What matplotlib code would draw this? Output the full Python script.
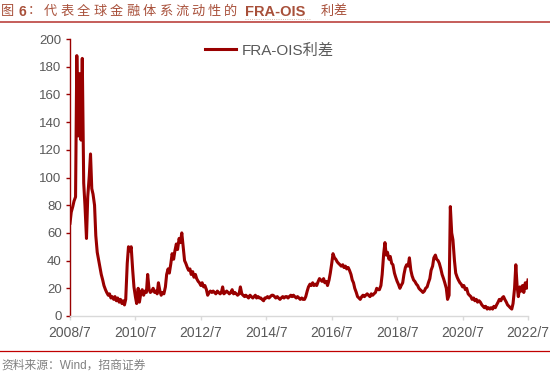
import numpy as np
import pandas as pd
import matplotlib
matplotlib.use('Agg')
import matplotlib.pyplot as plt

# FRA-OIS spread, semi-monthly readings from 2008/7/1 to 2022/7/1 (bp)
spread = [
    67, 75, 79, 83, 86, 188, 130, 175, 127, 186, 96, 80,
    56, 86, 101, 117, 92, 88, 80, 58, 46, 41, 35, 30,
    26, 22, 19, 17, 15, 16, 13, 14, 12, 14, 11, 13,
    10, 12, 9, 11, 8, 12, 38, 50, 47, 50, 33, 21,
    14, 9, 20, 10, 17, 19, 15, 18, 17, 30, 19, 17,
    18, 20, 17, 18, 16, 24, 18, 15, 17, 16, 21, 30,
    34, 31, 38, 45, 41, 47, 52, 48, 56, 53, 60, 51,
    40, 38, 35, 33, 34, 30, 32, 28, 30, 27, 25, 24,
    22, 24, 21, 22, 19, 15, 17, 18, 17, 18, 17, 16,
    18, 17, 16, 17, 21, 16, 17, 18, 17, 16, 17, 19,
    16, 17, 16, 15, 16, 21, 16, 15, 14, 15, 14, 13,
    15, 14, 13, 14, 15, 13, 14, 13, 13, 12, 11, 13,
    13, 14, 13, 14, 15, 15, 14, 13, 14, 13, 12, 13,
    14, 13, 14, 14, 13, 14, 15, 14, 15, 14, 13, 14,
    13, 12, 13, 12, 12, 14, 18, 21, 23, 22, 24, 22,
    23, 22, 25, 27, 26, 25, 27, 24, 25, 22, 26, 31,
    38, 45, 42, 41, 39, 38, 37, 36, 37, 35, 36, 34,
    35, 33, 30, 26, 24, 20, 17, 14, 13, 12, 14, 15,
    14, 15, 16, 15, 14, 16, 15, 16, 17, 20, 19, 19,
    22, 30, 45, 53, 44, 46, 41, 43, 38, 37, 31, 28,
    25, 23, 20, 22, 24, 30, 35, 37, 36, 42, 33, 29,
    26, 25, 23, 22, 20, 19, 18, 17, 18, 20, 21, 24,
    27, 33, 36, 42, 44, 41, 40, 38, 34, 30, 27, 24,
    20, 12, 15, 79, 60, 55, 40, 31, 28, 26, 24, 23,
    21, 22, 19, 20, 16, 15, 14, 12, 13, 11, 12, 10,
    11, 10, 8, 7, 6, 7, 5, 6, 5, 6, 5, 7,
    6, 8, 10, 12, 11, 13, 14, 12, 10, 8, 7, 6,
    5, 9, 20, 37, 22, 14, 21, 18, 22, 17, 24, 20,
    26,
]
dates = pd.date_range('2008-07-01', periods=len(spread), freq='SMS')

tick_dates = pd.to_datetime(['2008-07-01', '2010-07-01', '2012-07-01', '2014-07-01',
                             '2016-07-01', '2018-07-01', '2020-07-01', '2022-07-01'])
tick_labels = ['2008/7', '2010/7', '2012/7', '2014/7', '2016/7', '2018/7', '2020/7', '2022/7']
y_ticks = list(range(0, 201, 20))

series_name = 'FRA-OIS利差'
title_cn = '代表全球金融体系流动性的'
source_text = '资料来源：Wind，招商证券'

W, H = 550, 377
fonts = ['Liberation Sans', 'Noto Sans CJK SC', 'DejaVu Sans']
plt.rcParams['font.family'] = fonts

red = '#990000'
grey = '#595959'
title_col = '#A8503A'

fig = plt.figure(figsize=(W / 100, H / 100), dpi=100)
ax = fig.add_axes([70 / W, 1 - 316 / H, (528 - 70) / W, (316 - 39) / H])

ax.plot(dates, spread, color=red, lw=2.2, label=series_name)

ax.set_xlim(tick_dates[0], tick_dates[-1])
ax.set_ylim(0, 200)
ax.set_xticks(tick_dates)
ax.set_xticklabels(tick_labels)
ax.set_yticks(y_ticks)

for s in ['top', 'right']:
    ax.spines[s].set_visible(False)
ax.spines['left'].set_color(red)
ax.spines['left'].set_linewidth(1.0)
ax.spines['bottom'].set_color('#d9d9d9')
ax.spines['bottom'].set_linewidth(1.0)
ax.tick_params(axis='y', colors=red, labelcolor=grey, labelsize=9.5, length=3, width=1.0, pad=3)
ax.tick_params(axis='x', colors='#d9d9d9', labelcolor=grey, labelsize=10, length=3, width=1.0, pad=4)

leg = ax.legend(loc='center left', bbox_to_anchor=(205 / W, 1 - 50.5 / H),
                bbox_transform=fig.transFigure, frameon=False, fontsize=11,
                handlelength=2.0, handletextpad=0.4, borderpad=0, borderaxespad=0)
for t in leg.get_texts():
    t.set_color(grey)


def put(x, y, s, **kw):
    fig.text(x / W, 1 - y / H, s, va='center', **kw)


def spaced(x0, y, s, pitch, **kw):
    for k, ch in enumerate(s):
        put(x0 + k * pitch, y, ch, ha='center', **kw)


# header
ty = 11.5
put(7, ty, '图', ha='center', fontsize=9.5, color=title_col)
put(22.5, ty, '6', ha='center', fontsize=10, color=title_col, fontweight='bold')
put(28, ty, '：', ha='left', fontsize=9.5, color=title_col)
spaced(50.5, ty, title_cn, 16.4, fontsize=9.5, color=title_col)
put(245, ty, 'FRA-OIS', ha='left', fontsize=10.5, color=title_col, fontweight='bold')
spaced(327.5, ty, '利差', 12.5, fontsize=9.5, color=title_col)
fig.add_artist(plt.Line2D([245 / W, 310 / W], [1 - 19 / H] * 2, color='#C9A08F', lw=0.6, ls=':'))
fig.add_artist(plt.Line2D([0, 1], [1 - 21.7 / H] * 2, color='#C0504D', lw=1.3))

# footer
fig.add_artist(plt.Line2D([0, 1], [1 - 351 / H] * 2, color='#C00000', lw=0.9))
put(1, 365.5, source_text, ha='left', fontsize=8.5, color='#808080')

fig.savefig('out.png', dpi=100)
